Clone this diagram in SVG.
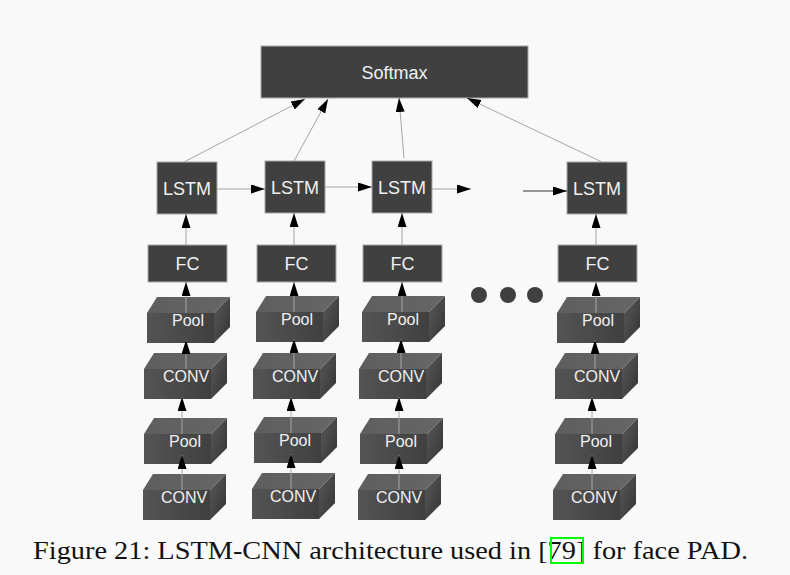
<svg xmlns="http://www.w3.org/2000/svg" xmlns:xlink="http://www.w3.org/1999/xlink" width="790" height="575" viewBox="0 0 790 575">
<style>
.flat{fill:#404040;stroke:#a8a8a8;stroke-width:1}
.lbl{font-family:"Liberation Sans",Arial,sans-serif;fill:#f0f0f0;text-anchor:middle}
.big{font-size:18px}
.small{font-size:16px}
.con{stroke:#a6a6a6;stroke-width:1;fill:none;marker-end:url(#ah)}
.dark{stroke:#333;stroke-width:1;fill:none;marker-end:url(#ah)}
.dot{fill:#404040}
</style>
<defs>
<marker id="ah" markerUnits="userSpaceOnUse" markerWidth="14" markerHeight="10" refX="14" refY="4.5" orient="auto">
<path d="M0,0 L14,4.5 L0,9 z" fill="#000"/>
</marker>
<linearGradient id="gFront" x1="0" y1="0" x2="1" y2="0">
<stop offset="0" stop-color="#545454"/><stop offset="1" stop-color="#404040"/>
</linearGradient>
<linearGradient id="gTop" x1="0" y1="0" x2="1" y2="0">
<stop offset="0" stop-color="#5e5e5e"/><stop offset="1" stop-color="#666"/>
</linearGradient>
<linearGradient id="gSide" x1="0" y1="0" x2="1" y2="1">
<stop offset="0" stop-color="#5a5a5a"/><stop offset="1" stop-color="#333"/>
</linearGradient>
<g id="box3d">
<rect x="0" y="0" width="67" height="30" fill="url(#gFront)"/>
<polygon points="0,0 10,-16 83,-16 67,0" fill="url(#gTop)"/>
<polygon points="67,0 83,-16 83,14 67,30" fill="url(#gSide)"/>
</g>
</defs>
<rect width="790" height="575" fill="#f9f9f9"/>

<g id="softmax"><rect class="flat" x="261" y="46" width="267" height="52"/><text class="lbl big" x="394.5" y="78.5">Softmax</text></g>

<g id="lstm1"><rect class="flat" x="157" y="162" width="60" height="52"/><text class="lbl big" x="187" y="194.5">LSTM</text></g>
<g id="lstm2"><rect class="flat" x="265" y="161" width="60" height="52"/><text class="lbl big" x="295" y="193.5">LSTM</text></g>
<g id="lstm3"><rect class="flat" x="372" y="161" width="60" height="52"/><text class="lbl big" x="402" y="193.5">LSTM</text></g>
<g id="lstm4"><rect class="flat" x="567" y="162" width="60" height="52"/><text class="lbl big" x="597" y="194.5">LSTM</text></g>

<g id="fc1"><rect class="flat" x="148" y="245" width="79" height="37"/><text class="lbl big" x="187.5" y="270">FC</text></g>
<g id="fc2"><rect class="flat" x="257" y="245" width="79" height="37"/><text class="lbl big" x="296.5" y="270">FC</text></g>
<g id="fc3"><rect class="flat" x="363" y="245" width="79" height="37"/><text class="lbl big" x="402.5" y="270">FC</text></g>
<g id="fc4"><rect class="flat" x="558" y="245" width="79" height="37"/><text class="lbl big" x="597.5" y="270">FC</text></g>

<g id="pool1a"><use xlink:href="#box3d" x="147" y="313"/><text class="lbl small" x="188" y="326">Pool</text></g>
<g id="conv1a"><use xlink:href="#box3d" x="144" y="369"/><text class="lbl small" x="186" y="382">CONV</text></g>
<g id="pool1b"><use xlink:href="#box3d" x="144" y="434"/><text class="lbl small" x="185" y="447">Pool</text></g>
<g id="conv1b"><use xlink:href="#box3d" x="143" y="490"/><text class="lbl small" x="184" y="503">CONV</text></g>

<g id="pool2a"><use xlink:href="#box3d" x="256" y="312"/><text class="lbl small" x="297" y="325">Pool</text></g>
<g id="conv2a"><use xlink:href="#box3d" x="253" y="369"/><text class="lbl small" x="295" y="382">CONV</text></g>
<g id="pool2b"><use xlink:href="#box3d" x="254" y="433"/><text class="lbl small" x="295" y="446">Pool</text></g>
<g id="conv2b"><use xlink:href="#box3d" x="252" y="489"/><text class="lbl small" x="293" y="502">CONV</text></g>

<g id="pool3a"><use xlink:href="#box3d" x="362" y="312"/><text class="lbl small" x="403" y="325">Pool</text></g>
<g id="conv3a"><use xlink:href="#box3d" x="359" y="369"/><text class="lbl small" x="401" y="382">CONV</text></g>
<g id="pool3b"><use xlink:href="#box3d" x="360" y="434"/><text class="lbl small" x="401" y="447">Pool</text></g>
<g id="conv3b"><use xlink:href="#box3d" x="358" y="490"/><text class="lbl small" x="399" y="503">CONV</text></g>

<g id="pool4a"><use xlink:href="#box3d" x="557" y="313"/><text class="lbl small" x="598" y="326">Pool</text></g>
<g id="conv4a"><use xlink:href="#box3d" x="555" y="369"/><text class="lbl small" x="597" y="382">CONV</text></g>
<g id="pool4b"><use xlink:href="#box3d" x="555" y="434"/><text class="lbl small" x="596" y="447">Pool</text></g>
<g id="conv4b"><use xlink:href="#box3d" x="553" y="490"/><text class="lbl small" x="594" y="503">CONV</text></g>

<g id="ellipsis"><circle class="dot" cx="479" cy="295" r="8"/><circle class="dot" cx="508" cy="295" r="8"/><circle class="dot" cx="535" cy="295" r="8"/></g>

<g id="connectors">
<line class="con" x1="184" y1="162" x2="305" y2="99"/>
<line class="con" x1="294" y1="161" x2="328" y2="99"/>
<line class="con" x1="404" y1="158" x2="399" y2="98"/>
<line class="con" x1="602" y1="162" x2="467" y2="98"/>

<line class="con" x1="217" y1="189" x2="265" y2="189"/>
<line class="con" x1="325" y1="187" x2="372" y2="187"/>
<line class="con" x1="432" y1="189" x2="471" y2="189"/>
<line class="dark" x1="523" y1="191" x2="567" y2="191"/>

<line class="con" x1="186" y1="245" x2="186" y2="214"/>
<line class="con" x1="186" y1="313" x2="186" y2="282"/>
<line class="con" x1="186" y1="369" x2="186" y2="340"/>
<line class="con" x1="182" y1="434" x2="182" y2="397"/>
<line class="con" x1="182" y1="490" x2="182" y2="455"/>

<line class="con" x1="294" y1="245" x2="294" y2="213"/>
<line class="con" x1="294" y1="312" x2="294" y2="282"/>
<line class="con" x1="294" y1="369" x2="294" y2="339"/>
<line class="con" x1="291" y1="433" x2="291" y2="397"/>
<line class="con" x1="291" y1="489" x2="291" y2="454"/>

<line class="con" x1="402" y1="245" x2="402" y2="213"/>
<line class="con" x1="402" y1="312" x2="402" y2="282"/>
<line class="con" x1="401" y1="369" x2="401" y2="339"/>
<line class="con" x1="399" y1="434" x2="399" y2="397"/>
<line class="con" x1="399" y1="490" x2="399" y2="455"/>

<line class="con" x1="596" y1="245" x2="596" y2="214"/>
<line class="con" x1="596" y1="313" x2="596" y2="282"/>
<line class="con" x1="595" y1="369" x2="595" y2="340"/>
<line class="con" x1="592" y1="434" x2="592" y2="397"/>
<line class="con" x1="592" y1="490" x2="592" y2="455"/>
</g>

<g id="caption">
<text x="33" y="559" font-family="'Liberation Serif','Times New Roman',serif" font-size="26" fill="#111" textLength="715" lengthAdjust="spacingAndGlyphs">Figure 21: LSTM-CNN architecture used in [79] for face PAD.</text>
<rect x="551" y="538" width="32" height="25" fill="none" stroke="#00ff00" stroke-width="2"/>
</g>
</svg>
